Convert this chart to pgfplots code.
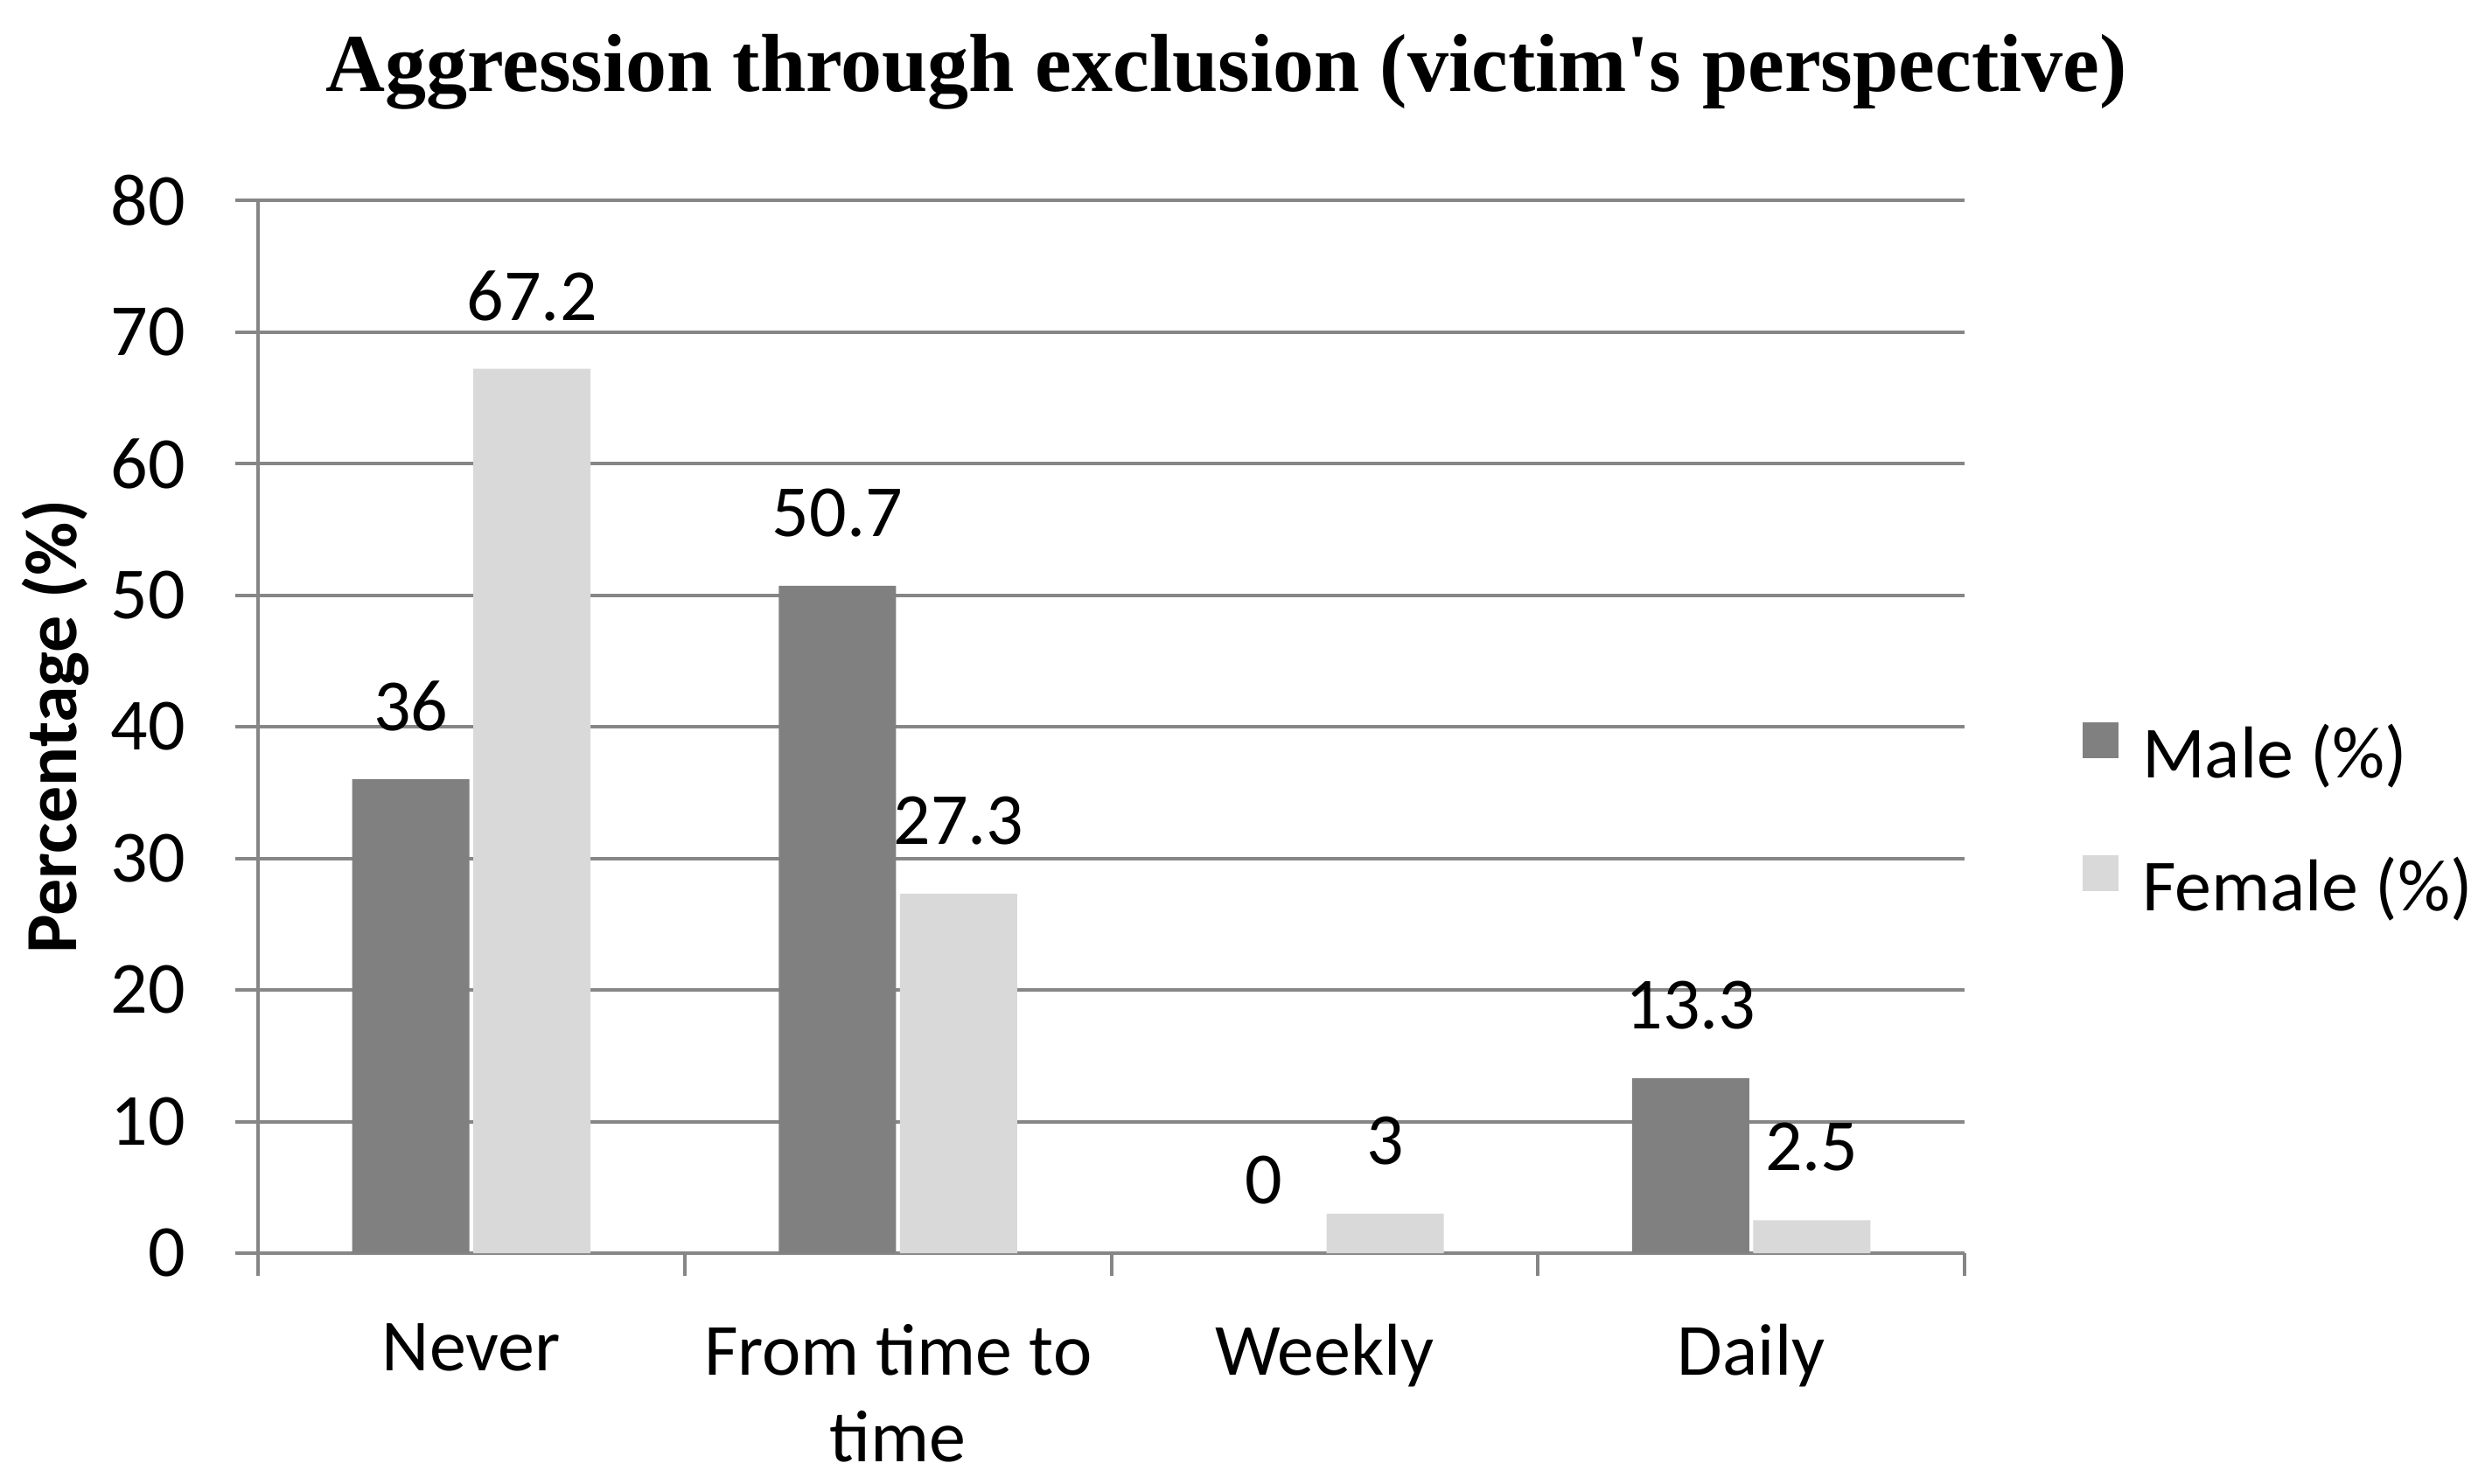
\documentclass[border=0pt]{standalone}
\usepackage{pgfplots}
\pgfplotsset{compat=1.18}
\usepackage{fontspec}
\setmainfont{Carlito}
\newfontfamily\titlefont{Liberation Serif}
\definecolor{male}{HTML}{808080}
\definecolor{female}{HTML}{D9D9D9}
\definecolor{gridc}{HTML}{868686}
\begin{document}
\begin{tikzpicture}
\begin{axis}[
  name=ax,
  scale only axis,
  width=390.2bp, height=240.8bp,
  ybar=0.9bp, bar width=26.8bp,
  xmin=-0.5, xmax=3.5, ymin=0, ymax=80,
  xtick={-0.5,0.5,1.5,2.5,3.5},
  xticklabels={},
  extra x ticks={0,1,2,3},
  extra x tick labels={Never, {From time to\\time}, Weekly, Daily},
  extra x tick style={major tick length=0pt, tick style={draw=none},
    xticklabel style={anchor=north, inner sep=0pt, align=center, yshift=-16bp}},
  ytick={0,10,...,80},
  axis x line*=bottom, axis y line*=left,
  axis line style={draw=gridc, line width=0.8bp},
  tick align=outside,
  major tick length=5.2bp,
  tick style={draw=gridc, line width=0.8bp},
  ymajorgrids, grid style={draw=gridc, line width=0.8bp},
  /pgf/number format/assume math mode=true,
  tick label style={font=\fontsize{16.8bp}{19.9bp}\selectfont},
  yticklabel style={anchor=east, inner sep=0pt, xshift=-11.2bp},
  ylabel={\bfseries Percentage (\%)},
  ylabel style={at={(axis description cs:-0.1189,0.5)}, anchor=center, font=\fontsize{16.8bp}{20bp}\selectfont},
  title={\titlefont\bfseries Aggression through exclusion (victim's perspective)},
  title style={at={(axis description cs:0.5674,1)}, anchor=base, yshift=19bp, inner sep=0pt, font=\fontsize{18.8bp}{21bp}\selectfont},
  nodes near coords,
  every node near coord/.append style={anchor=center, yshift=16.7bp, inner sep=0pt, text=black, font=\fontsize{16.8bp}{20bp}\selectfont},
  legend style={at={(axis description cs:1.0687,0.4086)}, anchor=west, draw=none, fill=none, inner sep=0pt,
    font=\fontsize{16.8bp}{20bp}\selectfont, row sep=14.8bp,
    nodes={inner sep=0pt, text height=11bp, text depth=3bp},
    /tikz/every odd column/.append style={column sep=5.4bp}},
  legend cell align=left,
  legend image code/.code={\path[#1, draw=none] (0bp,0.5bp) rectangle (8.2bp,8.7bp);},
]
\addplot[fill=male, draw=none] coordinates {(0,36) (1,50.7) (2,0) (3,13.3)};
\addplot[fill=female, draw=none] coordinates {(0,67.2) (1,27.3) (2,3) (3,2.5)};
\legend{Male (\%), Female (\%)}
\end{axis}
\pgfresetboundingbox
\path ([shift={(-59bp,-52.8bp)}]ax.south west) rectangle ([shift={(117.4bp,45.8bp)}]ax.north east);
\end{tikzpicture}
\end{document}
